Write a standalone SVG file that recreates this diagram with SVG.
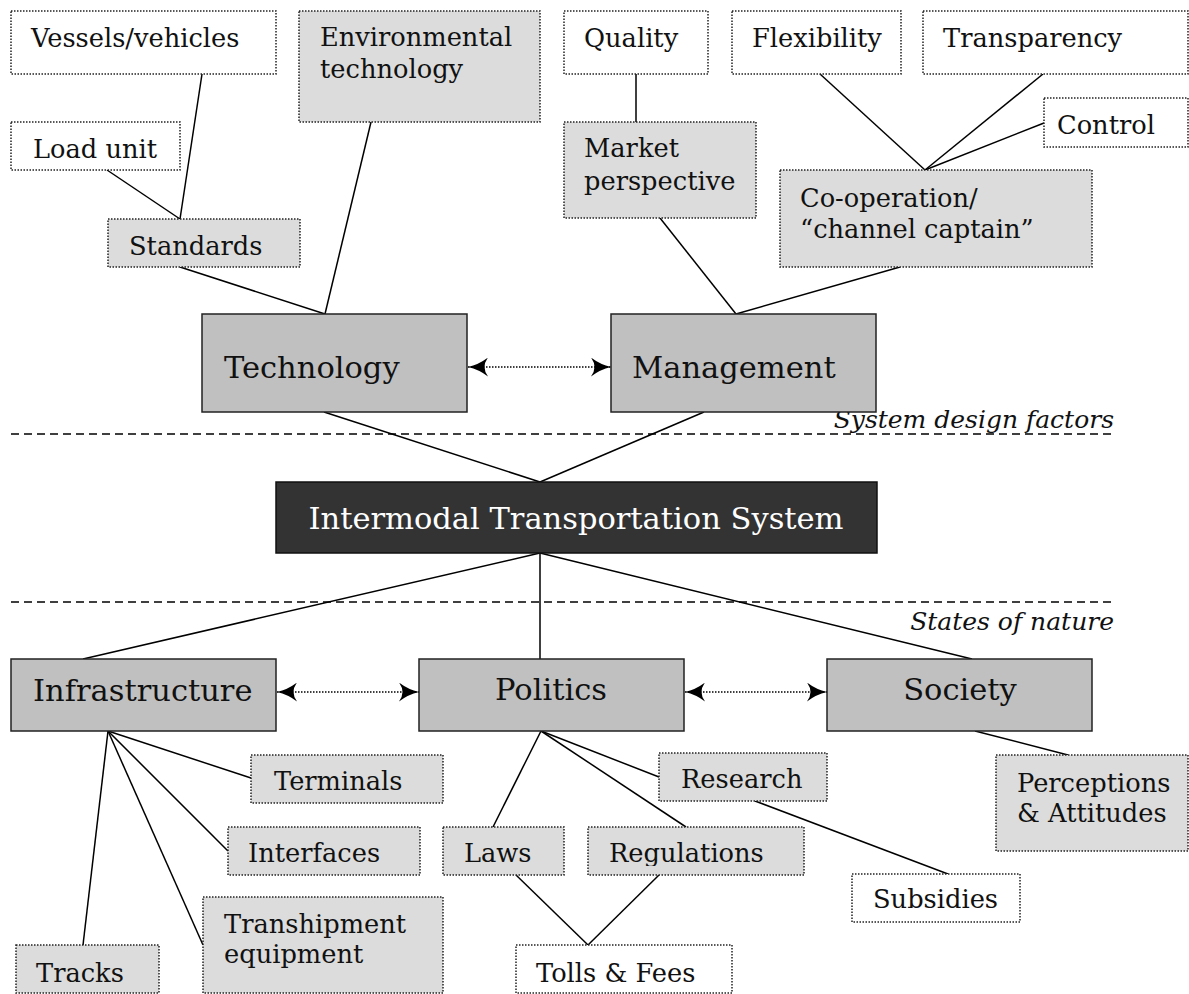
<svg xmlns="http://www.w3.org/2000/svg" width="1189" height="994" viewBox="0 0 1189 994">
  <style>
    text { font-family: "DejaVu Serif", "Liberation Serif", serif; fill: #111; }
    .sub { font-size: 25.7px; }
    .main { font-size: 30.5px; }
    .note { font-size: 25px; font-style: italic; }
    .white { fill: #ffffff; stroke: #222; stroke-width: 1.5; stroke-dasharray: 1.5 1.5; }
    .light { fill: #dcdcdc; stroke: #222; stroke-width: 1.5; stroke-dasharray: 1.5 1.5; }
    .box { fill: #c0c0c0; stroke: #222; stroke-width: 1.5; }
    .core { fill: #333333; stroke: #111; stroke-width: 1.5; }
    .link { stroke: #000; stroke-width: 1.5; fill: none; }
    .rel { stroke: #000; stroke-width: 1.5; stroke-dasharray: 1.5 1.5; fill: none; }
    .divider { stroke: #000; stroke-width: 1.5; stroke-dasharray: 8 5; fill: none; }
  </style>
  <defs>
    <marker id="tip" viewBox="0 0 20 19" refX="20" refY="9.5" markerWidth="20" markerHeight="19" markerUnits="userSpaceOnUse" orient="auto-start-reverse">
      <path d="M0,0 Q9,7 20,9.5 Q9,12 0,19 Q7,9.5 0,0 z" fill="#000"/>
    </marker>
    <clipPath id="regClip"><rect x="588" y="827" width="216" height="39"/></clipPath>
  </defs>

  <!-- dividers -->
  <g id="dividers">
    <line class="divider" x1="11" y1="434" x2="1116" y2="434"/>
    <text class="note" x="1114" y="428" text-anchor="end">System design factors</text>
    <line class="divider" x1="11" y1="602" x2="1116" y2="602"/>
    <text class="note" x="1114" y="630" text-anchor="end">States of nature</text>
  </g>

  <!-- connectors -->
  <g id="connectors">
    <line class="link" x1="202" y1="74" x2="180" y2="219"/>
    <line class="link" x1="107" y1="170" x2="180" y2="219"/>
    <line class="link" x1="180" y1="267" x2="325" y2="314"/>
    <line class="link" x1="371" y1="122" x2="325" y2="314"/>
    <line class="link" x1="636" y1="74" x2="636" y2="122"/>
    <line class="link" x1="660" y1="218" x2="736" y2="314"/>
    <line class="link" x1="900" y1="267" x2="736" y2="314"/>
    <line class="link" x1="820" y1="74" x2="925" y2="170"/>
    <line class="link" x1="1043" y1="74" x2="925" y2="170"/>
    <line class="link" x1="1044" y1="123" x2="925" y2="170"/>
    <line class="link" x1="324" y1="412" x2="540" y2="482"/>
    <line class="link" x1="704" y1="412" x2="540" y2="482"/>
    <line class="link" x1="540" y1="553" x2="83" y2="659"/>
    <line class="link" x1="540" y1="553" x2="540" y2="659"/>
    <line class="link" x1="540" y1="553" x2="972" y2="659"/>
    <line class="link" x1="108" y1="731" x2="251" y2="778"/>
    <line class="link" x1="108" y1="731" x2="228" y2="851"/>
    <line class="link" x1="108" y1="731" x2="203" y2="945"/>
    <line class="link" x1="108" y1="731" x2="83" y2="945"/>
    <line class="link" x1="541" y1="731" x2="493" y2="827"/>
    <line class="link" x1="541" y1="731" x2="686" y2="827"/>
    <line class="link" x1="541" y1="731" x2="659" y2="777"/>
    <line class="link" x1="755" y1="801" x2="948" y2="874"/>
    <line class="link" x1="516" y1="875" x2="588" y2="945"/>
    <line class="link" x1="659" y1="875" x2="588" y2="945"/>
    <line class="link" x1="975" y1="731" x2="1068" y2="755"/>
    <line class="rel" x1="468" y1="367" x2="611" y2="367" marker-start="url(#tip)" marker-end="url(#tip)"/>
    <line class="rel" x1="277" y1="692" x2="419" y2="692" marker-start="url(#tip)" marker-end="url(#tip)"/>
    <line class="rel" x1="685" y1="692" x2="827" y2="692" marker-start="url(#tip)" marker-end="url(#tip)"/>
  </g>

  <!-- technology side -->
  <g id="vessels">
    <rect class="white" x="11" y="11" width="265" height="63"/>
    <text class="sub" x="31" y="47">Vessels/vehicles</text>
  </g>
  <g id="env-tech">
    <rect class="light" x="299" y="11" width="241" height="111"/>
    <text class="sub" x="320" y="46">Environmental</text>
    <text class="sub" x="320" y="78">technology</text>
  </g>
  <g id="load-unit">
    <rect class="white" x="11" y="122" width="169" height="48"/>
    <text class="sub" x="33" y="158">Load unit</text>
  </g>
  <g id="standards">
    <rect class="light" x="108" y="219" width="192" height="48"/>
    <text class="sub" x="129" y="255">Standards</text>
  </g>

  <!-- management side -->
  <g id="quality">
    <rect class="white" x="564" y="11" width="144" height="63"/>
    <text class="sub" x="584" y="47">Quality</text>
  </g>
  <g id="flexibility">
    <rect class="white" x="732" y="11" width="169" height="63"/>
    <text class="sub" x="752" y="47">Flexibility</text>
  </g>
  <g id="transparency">
    <rect class="white" x="923" y="11" width="265" height="63"/>
    <text class="sub" x="943" y="47">Transparency</text>
  </g>
  <g id="control">
    <rect class="white" x="1044" y="98" width="144" height="49"/>
    <text class="sub" x="1057" y="134">Control</text>
  </g>
  <g id="market">
    <rect class="light" x="564" y="122" width="192" height="96"/>
    <text class="sub" x="584" y="157">Market</text>
    <text class="sub" x="584" y="190">perspective</text>
  </g>
  <g id="cooperation">
    <rect class="light" x="780" y="170" width="312" height="97"/>
    <text class="sub" x="800" y="207">Co-operation/</text>
    <text class="sub" x="800" y="238">“channel captain”</text>
  </g>

  <!-- system design factors -->
  <g id="technology">
    <rect class="box" x="202" y="314" width="265" height="98"/>
    <text class="main" x="224" y="378">Technology</text>
  </g>
  <g id="management">
    <rect class="box" x="611" y="314" width="265" height="98"/>
    <text class="main" x="632" y="378">Management</text>
  </g>

  <!-- core system -->
  <g id="its">
    <rect class="core" x="276" y="482" width="601" height="71"/>
    <text class="main" x="576" y="529" text-anchor="middle" style="fill:#ffffff">Intermodal Transportation System</text>
  </g>

  <!-- states of nature -->
  <g id="infrastructure">
    <rect class="box" x="11" y="659" width="265" height="72"/>
    <text class="main" x="33" y="701">Infrastructure</text>
  </g>
  <g id="politics">
    <rect class="box" x="419" y="659" width="265" height="72"/>
    <text class="main" x="551" y="700" text-anchor="middle">Politics</text>
  </g>
  <g id="society">
    <rect class="box" x="827" y="659" width="265" height="72"/>
    <text class="main" x="960" y="700" text-anchor="middle">Society</text>
  </g>

  <!-- infrastructure elements -->
  <g id="terminals">
    <rect class="light" x="251" y="755" width="192" height="48"/>
    <text class="sub" x="274" y="790">Terminals</text>
  </g>
  <g id="interfaces">
    <rect class="light" x="228" y="827" width="192" height="48"/>
    <text class="sub" x="248" y="862">Interfaces</text>
  </g>
  <g id="transhipment">
    <rect class="light" x="203" y="897" width="240" height="96"/>
    <text class="sub" x="224" y="933">Transhipment</text>
    <text class="sub" x="224" y="963">equipment</text>
  </g>
  <g id="tracks">
    <rect class="light" x="16" y="945" width="143" height="48"/>
    <text class="sub" x="36" y="982">Tracks</text>
  </g>

  <!-- politics elements -->
  <g id="laws">
    <rect class="light" x="443" y="827" width="121" height="48"/>
    <text class="sub" x="464" y="862">Laws</text>
  </g>
  <g id="regulations">
    <rect class="light" x="588" y="827" width="216" height="48"/>
    <text class="sub" x="609" y="862" clip-path="url(#regClip)">Regulations</text>
  </g>
  <g id="research">
    <rect class="light" x="659" y="753" width="168" height="48"/>
    <text class="sub" x="681" y="788">Research</text>
  </g>
  <g id="subsidies">
    <rect class="white" x="852" y="874" width="168" height="48"/>
    <text class="sub" x="873" y="908">Subsidies</text>
  </g>
  <g id="tolls">
    <rect class="white" x="516" y="945" width="216" height="48"/>
    <text class="sub" x="536" y="982">Tolls &amp; Fees</text>
  </g>

  <!-- society elements -->
  <g id="perceptions">
    <rect class="light" x="996" y="755" width="192" height="96"/>
    <text class="sub" x="1017" y="792">Perceptions</text>
    <text class="sub" x="1017" y="822">&amp; Attitudes</text>
  </g>
</svg>
